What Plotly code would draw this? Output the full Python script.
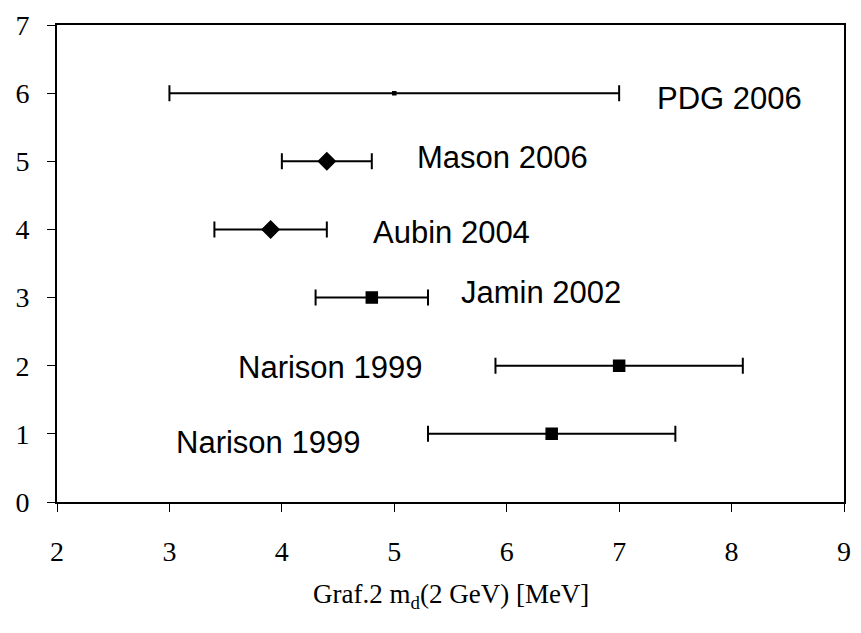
import plotly.graph_objects as go

labels = ["Narison 1999", "Narison 1999", "Jamin 2002", "Aubin 2004", "Mason 2006", "PDG 2006"]
rows = [1, 2, 3, 4, 5, 6]
values = [6.4, 7.0, 4.8, 3.9, 4.4, 5.0]
err_minus = [1.1, 1.1, 0.5, 0.5, 0.4, 2.0]
err_plus = [1.1, 1.1, 0.5, 0.5, 0.4, 2.0]
symbols = ["square", "square", "square", "diamond", "diamond", "square"]
marker_sizes = [11, 11, 11, 13, 13, 3]
label_x = [3.04, 3.59, 5.58, 4.79, 5.18, 7.32]
label_y = [0.87, 1.97, 3.07, 3.95, 5.05, 5.92]

fig = go.Figure()
for i in range(len(labels)):
    fig.add_trace(go.Scatter(
        x=[values[i]], y=[rows[i]], mode="markers",
        marker=dict(symbol=symbols[i], size=marker_sizes[i], color="black",
                    line=dict(color="black", width=1.5)),
        error_x=dict(type="data", symmetric=False, array=[err_plus[i]],
                     arrayminus=[err_minus[i]], color="black", thickness=2, width=8),
        showlegend=False, hoverinfo="skip"))
    fig.add_annotation(x=label_x[i], y=label_y[i], text=labels[i], showarrow=False,
                       xanchor="left", yanchor="middle",
                       font=dict(family="Liberation Sans, Arial", size=31, color="black"))

fig.add_annotation(xref="paper", yref="paper", x=0.5, y=-95 / 482,
                   text="Graf.2 m<sub>d</sub>(2 GeV) [MeV]", showarrow=False,
                   xanchor="center", yanchor="middle",
                   font=dict(family="Liberation Serif, Times New Roman", size=27, color="black"))

axis_common = dict(showline=True, linecolor="black", linewidth=2, mirror=True,
                   ticks="outside", ticklen=8, tickcolor="black", tickwidth=1,
                   showgrid=False, zeroline=False,
                   tickfont=dict(family="Liberation Serif, Times New Roman", size=28, color="black"))

fig.update_layout(
    width=861, height=633,
    margin=dict(l=57, r=10, t=20, b=131),
    paper_bgcolor="white", plot_bgcolor="white",
    xaxis=dict(range=[2, 9], dtick=1, ticklabelstandoff=15, **axis_common),
    yaxis=dict(range=[0, 7], dtick=1, ticklabelstandoff=12, **axis_common),
)
fig.write_html("out.html")
